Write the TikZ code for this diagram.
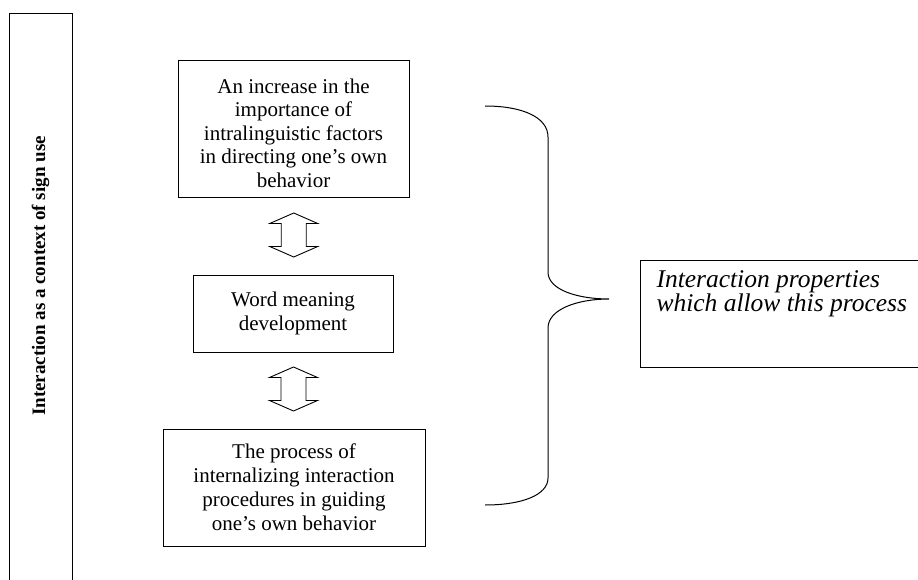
\documentclass[tikz,border=0pt]{standalone}
\usepackage{fontspec}
\setmainfont{Liberation Serif}
\usetikzlibrary{calc}
\begin{document}
\begin{tikzpicture}[x=1pt,y=-1pt,line width=1pt,
  box/.style={draw,rectangle,inner sep=0pt,align=center,font=\fontsize{21}{24}\selectfont},
  boxtext/.style={inner sep=0pt,align=center,font=\fontsize{21}{23.5}\selectfont},
  dblarrow/.pic={
    \draw[line width=0.9pt] (0,-22) -- (24,-11.5) -- (12.5,-11.5) -- (12.5,11.5) -- (24,11.5) -- (0,22)
      -- (-24,11.5) -- (-12.5,11.5) -- (-12.5,-11.5) -- (-24,-11.5) -- cycle;
  }]
\clip (0,0) rectangle (918,580);
% left context box (open at the bottom, runs off the page)
\node[draw,rectangle,inner sep=0pt,minimum width=63pt,minimum height=620pt,anchor=north west] (ctx) at (9,13) {};
\node[rotate=90,inner sep=0pt,font=\bfseries\fontsize{19}{22}\selectfont] (ctxlabel) at (40.5,276) {Interaction as a context of sign use};
% central boxes
\node[box,minimum width=231pt,minimum height=137pt] (inc) at (293.5,129.5) {};
\node[boxtext] (inctext) at ($(inc.center)+(0,3.5)$)
  {An increase in the\\importance of\\intralinguistic factors\\in directing one’s own\\behavior};
\node[box,minimum width=200pt,minimum height=77pt] (word) at (293,313.5)
  {Word meaning\\development};
\node[box,minimum width=262pt,minimum height=117pt] (proc) at (294,487.5)
  {The process of\\internalizing interaction\\procedures in guiding\\one’s own behavior};
% hollow double arrows between the boxes
\coordinate (a1) at ($(inc.south)!0.5!(word.north)$);
\coordinate (a2) at ($(word.south)!0.5!(proc.north)$);
\pic at ($(a1)+(0.5,-1.5)$) {dblarrow};
\pic at ($(a2)+(0,-1.5)$) {dblarrow};
% right box
\node[draw,rectangle,inner sep=0pt,minimum width=300pt,minimum height=107pt,anchor=north west] (prop) at (640,260) {};
\node[anchor=north west,inner sep=0pt,align=left,font=\itshape\fontsize{25.5}{24}\selectfont] (proptext) at (656,270)
  {Interaction properties\\which allow this process};
% brace
\coordinate (bt) at (485,106);
\coordinate (bm) at (609,299);
\coordinate (bb) at (485,505);
\draw (bt) .. controls (522,106) and (548,117) .. (548,137) -- (548,272)
  .. controls (548,290) and (578,299) .. (bm)
  .. controls (578,299) and (548,309) .. (548,328) -- (548,478)
  .. controls (548,495) and (522,505) .. (bb);
\end{tikzpicture}
\end{document}
